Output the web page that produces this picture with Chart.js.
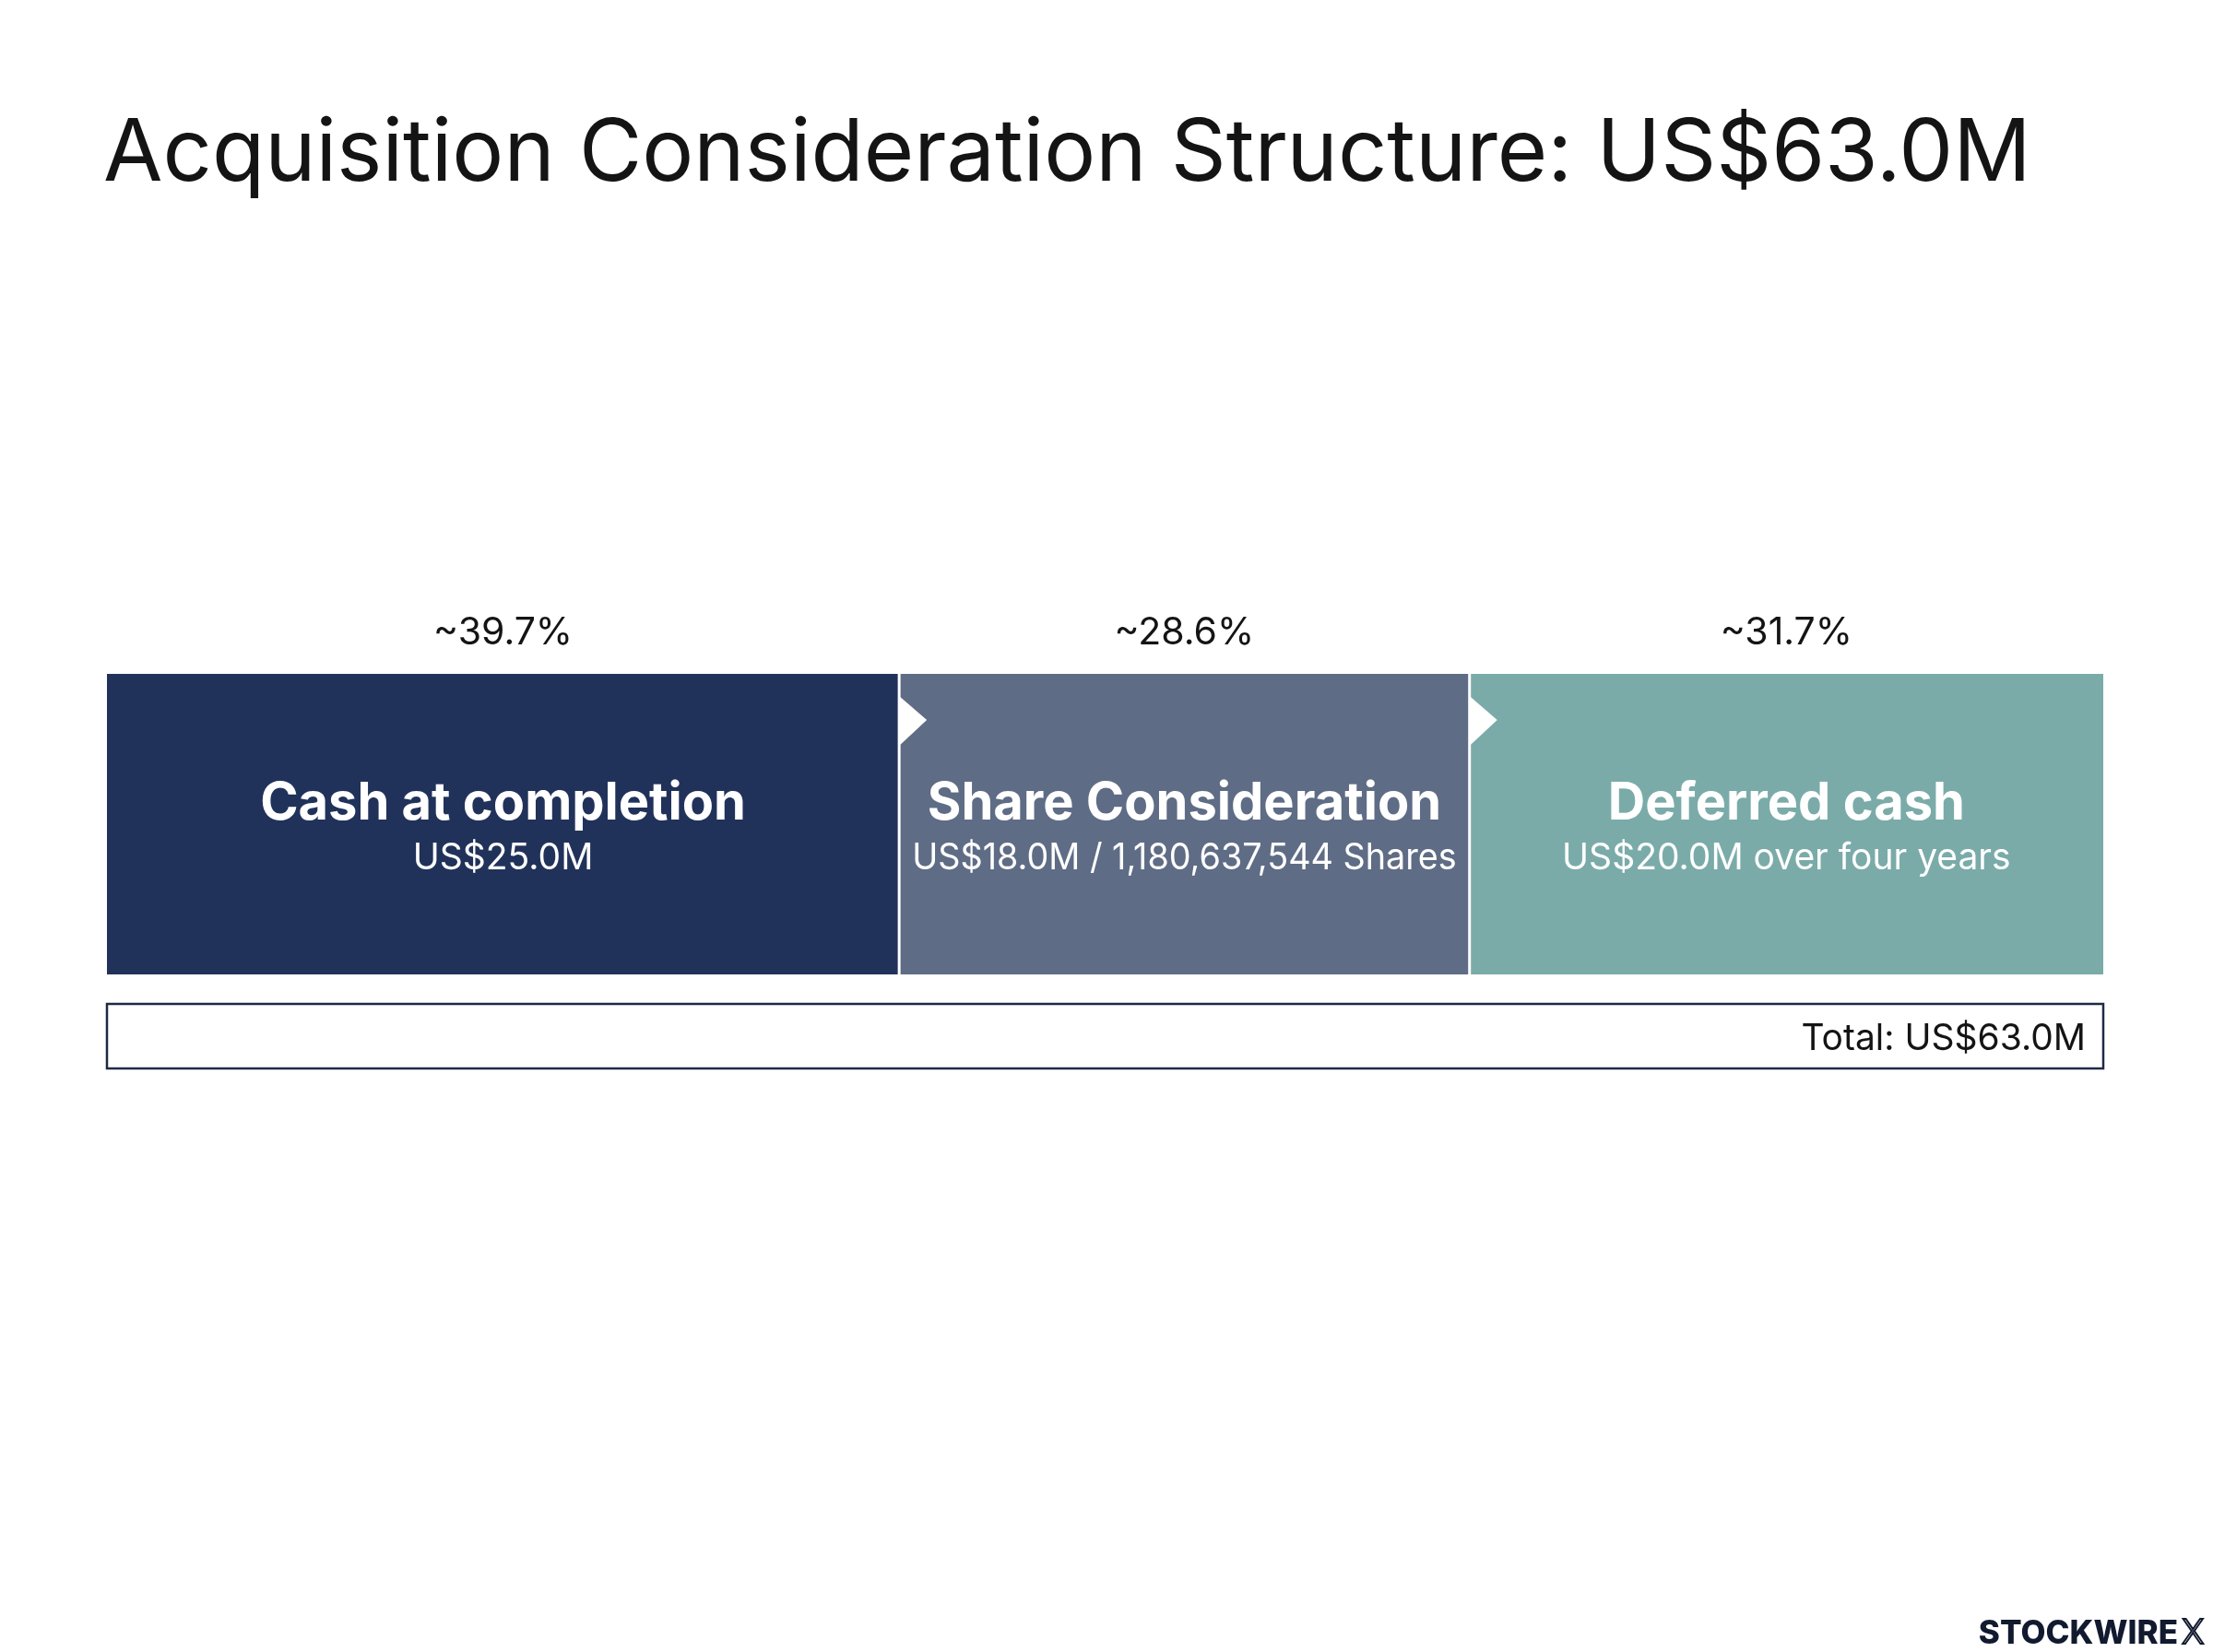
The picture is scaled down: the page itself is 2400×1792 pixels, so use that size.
<!DOCTYPE html>
<html>
<head>
<meta charset="utf-8">
<script src="https://cdn.jsdelivr.net/npm/chart.js@4"></script>
<style>
html,body{margin:0;padding:0;background:#ffffff;}
#c{display:block;}
</style>
</head>
<body>
<canvas id="c" width="2400" height="1792"></canvas>
<script>
// ---- data ----
const titleText = 'Acquisition Consideration Structure: US$63.0M';
const categories = ['Consideration'];
const segmentNames = ['Cash at completion', 'Share Consideration', 'Deferred cash'];
const segmentValues = [25.0, 18.0, 20.0];
const segmentDetails = ['US$25.0M', 'US$18.0M / 1,180,637,544 Shares', 'US$20.0M over four years'];
const totalValue = 63.0;
const totalLabel = 'Total: US$63.0M';
const brandName = 'STOCKWIRE';
const brandMark = 'X';

// ---- styles ----
const segmentColors = ['#21325a', '#5f6c85', '#7aaba9'];
const FONT = 'Inter, "Open Sans", "DejaVu Sans", sans-serif';
const darkText = '#141414';
const navy = '#1e2a45';

function shareLabel(v) {
  return '~' + (v / totalValue * 100).toFixed(1) + '%';
}

const overlay = {
  id: 'overlay',
  afterDraw(chart) {
    const ctx = chart.ctx;
    const area = chart.chartArea;
    const barH = area.bottom - area.top;
    ctx.save();

    // title
    ctx.fillStyle = darkText;
    ctx.font = '400 93.5px ' + FONT;
    ctx.textAlign = 'left';
    ctx.textBaseline = 'alphabetic';
    ctx.fillText(titleText, 112, 196);

    // segments
    segmentNames.forEach((name, i) => {
      const el = chart.getDatasetMeta(i).data[0];
      const x0 = Math.min(el.base, el.x);
      const x1 = Math.max(el.base, el.x);
      const cx = (x0 + x1) / 2;
      const inner = (x1 - x0) - 28;

      // percentage above
      ctx.fillStyle = darkText;
      ctx.font = '400 41px ' + FONT;
      ctx.textAlign = 'center';
      ctx.fillText(shareLabel(segmentValues[i]), cx, area.top - 32);

      // name
      ctx.fillStyle = '#ffffff';
      ctx.font = '700 56px ' + FONT;
      ctx.fillText(name, cx, area.top + barH * 0.485, inner);

      // detail
      ctx.font = '400 39px ' + FONT;
      ctx.fillText(segmentDetails[i], cx, area.top + barH * 0.65, inner);

      if (i > 0) {
        // white separator
        ctx.fillStyle = '#ffffff';
        ctx.fillRect(x0 - 1.5, area.top, 3, barH);
        // notch arrow
        ctx.beginPath();
        ctx.moveTo(x0, area.top + 24);
        ctx.lineTo(x0 + 30, area.top + 50);
        ctx.lineTo(x0, area.top + 78);
        ctx.closePath();
        ctx.fill();
      }
    });

    // total box
    const boxTop = area.bottom + 32;
    const boxH = 70;
    ctx.strokeStyle = navy;
    ctx.lineWidth = 2.5;
    ctx.strokeRect(area.left, boxTop, area.right - area.left, boxH);
    ctx.fillStyle = darkText;
    ctx.font = '400 39px ' + FONT;
    ctx.textAlign = 'right';
    ctx.fillText(totalLabel, area.right - 19, boxTop + 50);

    // brand
    ctx.font = '800 35px ' + FONT;
    ctx.fillStyle = '#111a2e';
    ctx.textAlign = 'right';
    const markW = 24;
    ctx.fillText(brandName, 2390 - markW - 4, 1783);
    ctx.font = '300 37px ' + FONT;
    ctx.strokeStyle = '#111a2e';
    ctx.lineWidth = 2;
    ctx.textAlign = 'left';
    ctx.strokeText(brandMark, 2390 - markW, 1783);

    ctx.restore();
  }
};

new Chart(document.getElementById('c'), {
  type: 'bar',
  data: {
    labels: categories,
    datasets: segmentNames.map((n, i) => ({
      label: n,
      data: [segmentValues[i]],
      backgroundColor: segmentColors[i],
      borderWidth: 0,
      barPercentage: 1,
      categoryPercentage: 1
    }))
  },
  options: {
    indexAxis: 'y',
    responsive: false,
    animation: false,
    layout: { padding: { left: 116, right: 119, top: 731, bottom: 735 } },
    scales: {
      x: { stacked: true, min: 0, max: totalValue, display: false },
      y: { stacked: true, display: false }
    },
    plugins: {
      legend: { display: false },
      tooltip: { enabled: false },
      title: { display: false }
    }
  },
  plugins: [overlay]
});
</script>
</body>
</html>
